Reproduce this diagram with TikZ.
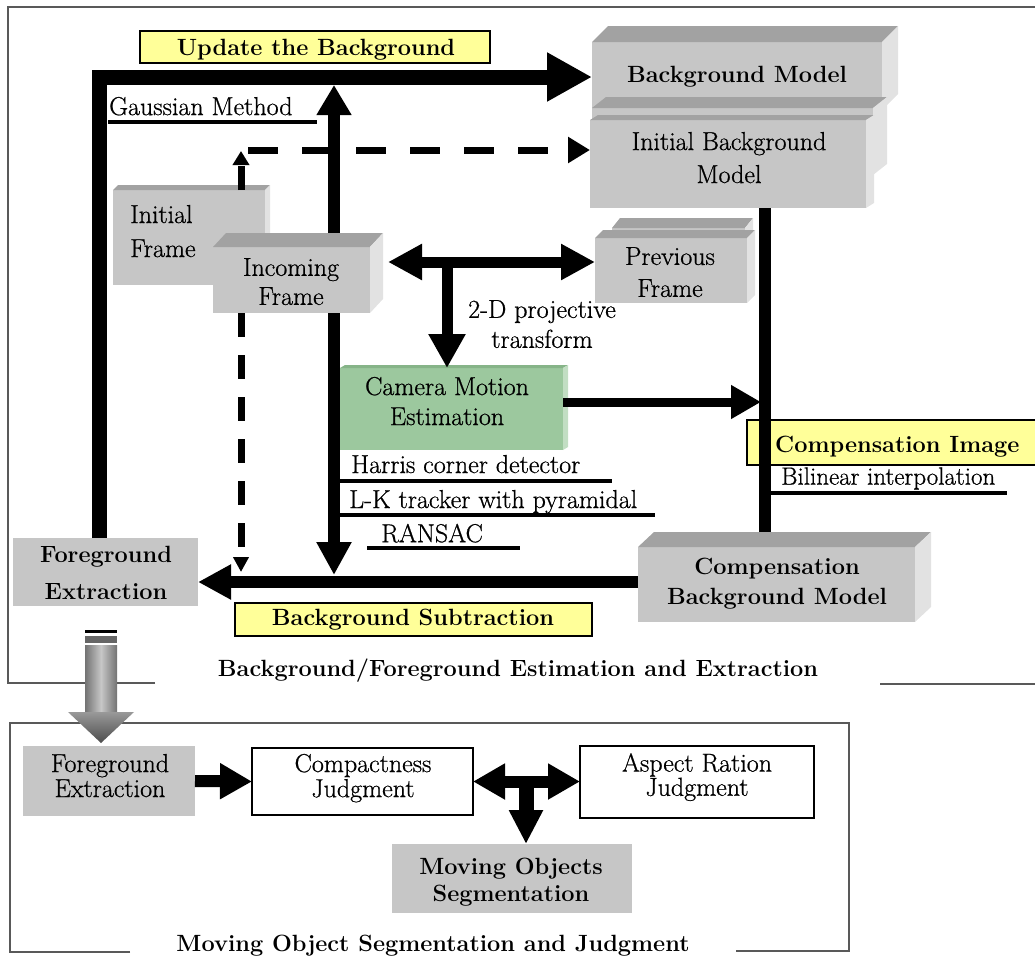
\documentclass[tikz,border=0pt]{standalone}
\usepackage{fontspec}
\newfontfamily\darkrm{Latin Modern Roman}[FakeBold=0.7]
\usetikzlibrary{arrows.meta,calc}
\definecolor{boxgray}{HTML}{C6C6C6}
\definecolor{topgray}{HTML}{A2A2A2}
\definecolor{sidegray}{HTML}{E2E2E2}
\definecolor{yel}{HTML}{FFFF99}
\definecolor{camgreen}{HTML}{9CC89E}
\definecolor{camtop}{HTML}{86B488}
\definecolor{camside}{HTML}{C2DEC3}
\newcommand\threed[5]{%
  \fill[#4] (#1.north west) -- ++(#2,-#3) -- ($(#1.north east)+(#2,-#3)$) -- (#1.north east) -- cycle;
  \fill[#5] (#1.north east) -- ++(#2,-#3) -- ($(#1.south east)+(#2,-#3)$) -- (#1.south east) -- cycle;}
\begin{document}
\begin{tikzpicture}[x=1pt,y=-1pt,
  frame/.style={draw=black!65, line width=2pt},
  gbox/.style={fill=boxgray, inner sep=0pt, outer sep=0pt, anchor=north west},
  wbox/.style={fill=white, draw=black, line width=2.5pt, inner sep=0pt, outer sep=0pt, anchor=north west},
  ybox/.style={fill=yel, draw=black, line width=2pt, inner sep=0pt, outer sep=0pt, anchor=north west},
  reg/.style={font=\darkrm\fontsize{26}{30}\selectfont, inner sep=0pt, text depth=0pt},
  bld/.style={font=\fontsize{23.5}{30}\selectfont\bfseries, inner sep=0pt, text depth=0pt},
  ul/.style={line width=4pt},
  dline/.style={line width=7pt, dash pattern=on 24pt off 18pt},
  hdash/.style={line width=7pt, dash pattern=on 30pt off 24pt},
]
\useasboundingbox (0,0) rectangle (1035,959);

% ---------- frames
\draw[frame] (155,683) -- (8,683) -- (8,7) -- (1037,7);
\draw[frame] (880,684) -- (1037,684);
\draw[frame] (130,952) -- (10,952) -- (10,723) -- (849,723) -- (849,951) -- (736,951);

% ---------- coordinates
\coordinate (c97) at (99,77);
\coordinate (gtop) at (334,85);
\coordinate (gbot) at (334,575);
\coordinate (dc) at (241,151);
\coordinate (dh) at (248,150);
\coordinate (dl) at (241,572);
\coordinate (hl) at (388,262);
\coordinate (hj) at (447,262);
\coordinate (ce) at (761,402);
\coordinate (vl) at (765,300);
\coordinate (bsy) at (400,582);
\coordinate (tj) at (526,782);

% ---------- foreground extraction (top)
\node[gbox, minimum width=185pt, minimum height=68pt] (fe1) at (13,538) {};

% ---------- vertical double arrow behind Incoming Frame
\draw[line width=12pt, {Triangle[length=30pt,width=33pt]}-{Triangle[length=33pt,width=33pt]}] (gtop) -- (gbot);

% ---------- background model stack
\node[gbox, minimum width=290pt, minimum height=68pt] (bgm) at (592,42) {};
\threed{bgm}{16}{16}{topgray}{sidegray}
\node[gbox, minimum width=281pt, minimum height=67pt] (mid) at (592,108) {};
\threed{mid}{14}{11}{topgray}{sidegray}
\node[gbox, minimum width=276pt, minimum height=88pt] (ibg) at (590,120) {};
\threed{ibg}{8}{5}{topgray}{sidegray}

% ---------- update loop
\draw[line width=15pt, line join=miter, -{Triangle[length=45pt,width=46pt]}] (fe1.north -| c97) -- (c97) -- (c97 -| bgm.west);

% ---------- initial frame + incoming frame
\node[gbox, minimum width=152pt, minimum height=95pt] (ifr) at (113,190) {};
\threed{ifr}{5}{5}{topgray}{sidegray}
\node[reg, font=\darkrm\fontsize{26}{34}\selectfont, align=left, anchor=west] (tifr) at (130,231) {Initial\\Frame};
\node[gbox, minimum width=157pt, minimum height=66pt] (inc) at (213,247) {};
\threed{inc}{13}{14}{topgray}{sidegray}

% ---------- dashed connectors
\draw[dline, -{Triangle[length=14pt,width=16pt]}] (ifr.north -| dc) -- (dc);
\draw[hdash, -{Triangle[length=22pt,width=25pt]}] (dh) -- (ibg.west |- dh);
\draw[dline, -{Triangle[length=15pt,width=15pt]}] (inc.south -| dc) -- (dl);

% ---------- previous frame
\node[gbox, minimum width=133pt, minimum height=50pt] (prv2) at (612,228) {};
\threed{prv2}{8}{10}{topgray}{sidegray}
\node[gbox, minimum width=152pt, minimum height=65pt] (prv) at (595,238) {};
\threed{prv}{8}{8}{topgray}{sidegray}

% ---------- camera motion estimation
\node[fill=camgreen, inner sep=0pt, outer sep=0pt, anchor=north west, minimum width=223pt, minimum height=82pt] (cam) at (340,368) {};
\threed{cam}{5}{3}{camtop}{camside}

% ---------- arrows around incoming frame
\draw[line width=11pt, {Triangle[length=34pt,width=34pt]}-{Triangle[length=34pt,width=34pt]}] (hl) -- (prv.west |- hl);
\draw[line width=11pt, -{Triangle[length=34pt,width=35pt]}] (hj) -- (cam.north -| hj);
\draw[line width=9pt, -{Triangle[length=30pt,width=32pt]}] (cam.east |- ce) -- (ce);

% ---------- compensation image + vertical line + compensation background model
\node[ybox, minimum width=292pt, minimum height=45pt] (cim) at (747,420) {};
\node[gbox, minimum width=277pt, minimum height=75pt] (cbm) at (638,547) {};
\draw[line width=12pt] (ibg.south -| vl) -- (cbm.north -| vl);
\threed{cbm}{16}{15}{topgray}{sidegray}

% ---------- background subtraction line
\draw[line width=12pt, -{Triangle[length=33pt,width=33pt]}] (cbm.west |- bsy) -- (fe1.east |- bsy);

% ---------- yellow label boxes
\node[ybox, minimum width=350pt, minimum height=32pt] (upd) at (140,31) {};
\node[ybox, minimum width=357pt, minimum height=33pt] (bsb) at (235,603) {};

% ---------- underlines
\draw[ul] (108,122) -- (317,122);
\draw[ul] (340,481) -- (612,481);
\draw[ul] (340,515) -- (655,515);
\draw[ul] (367,548) -- (520,548);
\draw[ul] (765,493) -- (1007,493);

% ---------- grey transfer arrow
\draw[line width=3pt] (85,631) -- (117,631);
\fill[black!60] (85,636) rectangle (117,643);
\shade[left color=black!55, right color=black!55, middle color=black!22] (85,645) rectangle (117,713);
\shade[top color=black!40, bottom color=black!70] (68,712) -- (134,712) -- (101,743) -- cycle;

% ---------- lower part
\node[gbox, minimum width=172pt, minimum height=70pt] (fe2) at (23,746) {};
\node[wbox, minimum width=221pt, minimum height=67pt] (cj) at (252,748) {};
\node[wbox, minimum width=234pt, minimum height=72pt] (ar) at (580,746) {};
\node[gbox, minimum width=240pt, minimum height=69pt] (mos) at (392,844) {};
\draw[line width=12pt, -{Triangle[length=32pt,width=34pt]}] (fe2.east) -- (cj.west);
\draw[line width=12pt, {Triangle[length=32pt,width=34pt]}-{Triangle[length=32pt,width=34pt]}] (cj.east) -- (cj.east -| ar.west);
\draw[line width=15pt, -{Triangle[length=34pt,width=32pt]}] (tj) -- (mos.north -| tj);

% ---------- labels
\node[bld] (tupd) at (316,47) {Update the Background};
\node[reg, anchor=west] (tgm) at (109,106) {Gaussian Method};
\node[bld] (tbgm) at (737,74.5) {Background Model};
\node[reg, font=\darkrm\fontsize{26}{33}\selectfont, align=center] (tibg) at (729,157.5) {Initial Background\\Model};
\node[reg, font=\darkrm\fontsize{26}{29}\selectfont, align=center] (tinc) at (291,281.5) {Incoming\\Frame};
\node[reg, font=\darkrm\fontsize{26}{32}\selectfont, align=center] (tprv) at (670,272) {Previous\\Frame};
\node[reg, align=center] (tproj) at (542,324) {2-D projective\\transform};
\node[reg, align=center] (tcam) at (447,401) {Camera Motion\\Estimation};
\node[reg, anchor=west] (thar) at (351,464) {Harris corner detector};
\node[reg, anchor=west] (tlk) at (349,499) {L-K tracker with pyramidal};
\node[reg, anchor=west] (tran) at (381,533) {RANSAC};
\node[bld, anchor=west] (tcim) at (775,444.5) {Compensation Image};
\node[reg, font=\darkrm\fontsize{25}{30}\selectfont, anchor=west] (tbil) at (781,476) {Bilinear interpolation};
\node[bld, align=center] (tcbm) at (777,581.5) {Compensation\\Background Model};
\node[bld, font=\fontsize{23.5}{37}\selectfont\bfseries, align=center] (tfe1) at (106,573) {Foreground\\Extraction};
\node[bld] (tbs) at (413,617) {Background Subtraction};
\node[bld] (ttitle1) at (518,667.5) {Background/Foreground Estimation and Extraction};
\node[reg, font=\darkrm\fontsize{26}{25}\selectfont, align=center] (tfe2) at (110,775.5) {Foreground\\Extraction};
\node[reg, font=\darkrm\fontsize{26}{25}\selectfont, align=center] (tcj) at (363,775.5) {Compactness\\Judgment};
\node[reg, font=\darkrm\fontsize{26}{23}\selectfont, align=center] (tar) at (697,774.5) {Aspect Ration\\Judgment};
\node[bld, font=\fontsize{23.5}{27}\selectfont\bfseries, align=center] (tmos) at (511,880) {Moving Objects\\Segmentation};
\node[bld] (ttitle2) at (433,943.5) {Moving Object Segmentation and Judgment};
\end{tikzpicture}
\end{document}
